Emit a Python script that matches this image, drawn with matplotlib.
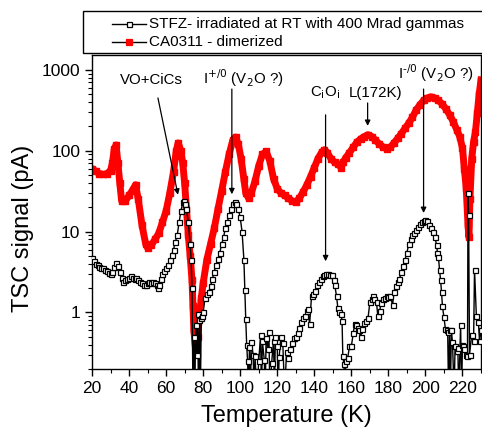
import matplotlib
matplotlib.use("Agg")
import matplotlib.pyplot as plt
from matplotlib.lines import Line2D
from matplotlib.patches import Rectangle
import numpy as np

plt.rcParams['font.family'] = ['Liberation Sans', 'DejaVu Sans']

# ---- data ----
red_T = [20, 22, 24, 26, 28, 30, 31, 32, 33, 34, 35, 36, 38, 40, 42, 43.5, 45, 47, 49, 50,
         52, 54, 56, 58, 60, 62, 64, 65.5, 66.5, 68, 69, 70, 71, 72, 73, 74, 74.5, 75, 75.5, 76,
         77, 78, 79, 80, 82, 84, 86, 88, 90, 92, 94, 96, 97.5, 99, 100.5, 102, 103, 104.5, 106, 108,
         110, 112, 114, 116, 118, 120, 122, 124, 126, 128, 130, 132, 134, 136, 138, 140, 142, 144, 145.5, 147,
         149, 151, 153, 154.5, 155.5, 157, 159, 161, 163, 165, 167, 169, 171, 173, 175, 177, 179, 181, 183, 185,
         187, 189, 191, 193, 195, 197, 199, 201, 203, 205, 207, 209, 211, 213, 215, 217, 218.5, 220, 221, 222,
         223, 223.5, 224, 225, 226, 227, 228, 229, 230]
red_V = [60, 56, 52, 51, 52, 57, 70, 105, 118, 70, 40, 24, 24, 28, 33, 38, 25, 12, 7, 6.3,
         6.8, 8, 9.5, 13, 18, 30, 55, 100, 125, 100, 70, 40, 19, 9, 5, 2.5, 1.2, 0.6, 0.45, 0.33,
         0.5, 0.9, 1.5, 2.3, 4.5, 7, 11, 19, 32, 55, 90, 135, 148, 120, 80, 45, 30, 26, 30, 42,
         65, 90, 98, 75, 45, 34, 30, 28, 26, 24, 23, 26, 31, 38, 48, 62, 80, 96, 103, 95,
         80, 72, 68, 62, 72, 82, 95, 110, 128, 140, 150, 158, 150, 135, 122, 112, 106, 110, 125, 142,
         163, 190, 220, 260, 320, 370, 420, 450, 465, 450, 420, 380, 330, 280, 230, 180, 150, 108, 60, 35,
         12, 8.5, 25, 80, 130, 170, 290, 500, 750]

blk_T = [20, 21, 22, 23, 24, 25, 26, 27, 28, 29, 30, 31, 32, 33, 34, 35, 36, 37, 38, 39,
         40, 41, 42, 43, 44, 45, 46, 47, 48, 49, 50, 51, 52, 53, 54, 55, 55.5, 56, 57, 58,
         59, 60, 61, 62, 63, 64, 65, 66, 67, 68, 69, 69.5, 70, 71, 72, 73, 73.5, 74, 74.5, 75,
         75.5, 76, 76.5, 77, 77.5, 78, 78.5, 79, 79.5, 80, 81, 82, 83, 84, 85, 86, 87, 88, 89, 90,
         91, 92, 93, 94, 95, 96, 97, 98, 99, 100, 101, 102, 102.5, 103, 103.5, 104, 104.5, 105, 105.5, 106,
         107, 107.5, 108, 109, 110, 111, 111.5, 112, 113, 113.5, 114, 115, 115.5, 116, 117, 118, 118.5, 119, 120, 120.5,
         121, 122, 123, 124, 125, 126, 127, 128, 129, 130, 131, 132, 133, 134, 135, 136, 136.5, 137.5, 138.5, 139.5,
         140.5, 141.5, 142.5, 143.5, 144.5, 145.5, 146.5, 147.5, 148.5, 149.5, 150.5, 151, 152, 152.7, 153.5, 154.5, 155, 155.4, 156, 156.5,
         157, 158, 159, 160, 161, 161.8, 162.5, 163.4, 164, 165, 166, 167, 168, 169, 170, 171, 171.5, 172.5, 173.6, 174.3,
         175.3, 176, 177, 178, 179, 180, 181, 182.3, 183, 184, 185, 186, 187, 188, 189, 190, 191, 192, 193, 194,
         195, 196, 197, 198, 199, 200, 201, 202, 203, 204, 205, 206, 206.5, 207, 207.6, 208.2, 208.7, 209.2, 210, 210.8,
         211.5, 212, 212.5, 213, 213.5, 214, 214.6, 215.5, 216, 217, 217.5, 218, 219, 219.5, 220, 220.5, 221, 222, 222.7, 223,
         223.3, 223.8, 225, 226, 226.5, 227.5, 228.6, 229.2, 230]
blk_V = [4.7, 4.3, 4.0, 3.9, 3.7, 3.6, 3.5, 3.4, 3.3, 3.1, 3.0, 3.2, 3.7, 4.1, 3.8, 3.2, 2.7, 2.4, 2.5, 2.6,
         2.7, 2.8, 2.7, 2.6, 2.7, 2.5, 2.4, 2.3, 2.2, 2.2, 2.3, 2.35, 2.3, 2.35, 2.3, 2.2, 2.0, 2.2, 2.6, 3.0,
         3.3, 3.6, 3.9, 4.4, 5.2, 6.0, 7.5, 9, 13, 18, 23, 24, 22, 19, 13, 7, 4.5, 2, 0.1, 0.5,
         0.1, 0.7, 0.3, 0.95, 0.1, 0.8, 0.1, 0.85, 0.9, 1.0, 1.5, 1.7, 1.8, 2.1, 2.6, 3.2, 3.9, 4.6, 5.5, 7,
         8.5, 11, 13, 16, 19, 22, 23.5, 22, 19, 15, 10, 4.5, 1.9, 0.82, 0.4, 0.25, 0.1, 0.37, 0.1, 0.43,
         0.3, 0.1, 0.29, 0.1, 0.25, 0.52, 0.1, 0.44, 0.26, 0.1, 0.49, 0.35, 0.58, 0.1, 0.24, 0.45, 0.1, 0.5, 0.38, 0.1,
         0.28, 0.5, 0.42, 0.1, 0.32, 0.27, 0.35, 0.42, 0.48, 0.5, 0.56, 0.65, 0.77, 0.85, 0.9, 1.05, 1.1, 0.72, 1.58, 1.7,
         1.85, 2.2, 2.4, 2.6, 2.8, 2.95, 3.0, 3.0, 2.95, 2.9, 2.5, 2.2, 1.6, 1.15, 1.0, 0.95, 0.78, 0.29, 0.23, 0.1,
         0.25, 0.27, 0.38, 0.38, 0.55, 0.73, 0.7, 0.65, 0.6, 0.5, 0.62, 0.75, 0.78, 0.85, 1.33, 1.45, 1.58, 1.45, 1.33, 0.9,
         1.03, 1.3, 1.45, 1.5, 1.58, 1.55, 1.6, 1.25, 1.8, 2.1, 2.4, 2.6, 3.2, 3.8, 4.5, 5.5, 7, 8, 9, 9.7,
         10.5, 11.5, 12.3, 13, 13.5, 14, 13.6, 12.2, 11, 10, 8.7, 6.9, 5.5, 4.9, 3.4, 2.5, 1.77, 1.19, 0.87, 0.62,
         0.6, 0.58, 0.1, 0.6, 0.1, 0.6, 0.43, 0.1, 0.38, 0.33, 0.36, 0.1, 0.71, 0.1, 0.4, 0.38, 0.35, 0.3, 0.29, 30,
         16, 0.3, 0.53, 0.45, 3.4, 0.9, 0.77, 0.44, 0.6]

legend_labels = ["STFZ- irradiated at RT with 400 Mrad gammas", "CA0311 - dimerized"]

W, H = 482, 429
def fx(px):
    return px / W
def fy(py):
    return 1 - py / H

# ---- figure ----
fig = plt.figure(figsize=(4.82, 4.29), dpi=100)
ax = fig.add_axes([fx(92), fy(369), 389 / W, 314 / H])

ax.plot(red_T, red_V, color='red', lw=5, marker='s', ms=4.5, mec='red', mfc='red', zorder=2)
ax.plot(blk_T, blk_V, color='black', lw=1, marker='s', ms=3.6, mec='black', mfc='white',
        mew=0.9, zorder=3)

ax.set_yscale('log')
ax.set_xlim(20, 230)
ax.set_ylim(0.2, 1530)
ax.set_xticks(np.arange(20, 231, 20))
ax.set_xticks(np.arange(30, 231, 20), minor=True)
ax.set_yticks([1, 10, 100, 1000])
ax.set_yticklabels(['1', '10', '100', '1000'])
ax.tick_params(which='major', direction='out', length=5, width=1, labelsize=12.5, top=False, right=False)
ax.tick_params(which='minor', direction='out', length=3, width=0.8, top=False, right=False)
ax.tick_params(axis='y', which='minor', labelleft=False)
for s in ax.spines.values():
    s.set_linewidth(1)

fig.text(fx(286), fy(416), 'Temperature (K)', fontsize=17, ha='center', va='center')
fig.text(fx(23), fy(228), 'TSC signal (pA)', fontsize=17, ha='center', va='center', rotation=90)

# ---- annotations ----
ap = dict(arrowstyle='-|>', color='black', lw=0.9, mutation_scale=8, shrinkA=0, shrinkB=0)
fs = 10.8
ax.text(52, 760, 'VO+CiCs', fontsize=fs, ha='center', va='center')
ax.annotate('', xy=(66.4, 28.6), xytext=(55.6, 450), arrowprops=ap)

ax.text(101.5, 800, r'I$^{\text{+/0}}$ (V$_2$O ?)', fontsize=fs, ha='center', va='center')
ax.annotate('', xy=(95.5, 29), xytext=(95.5, 580), arrowprops=ap)

ax.text(145.6, 520, r'C$_{\rm i}$O$_{\rm i}$', fontsize=fs, ha='center', va='center')
ax.annotate('', xy=(146.1, 4.3), xytext=(146.1, 278), arrowprops=ap)

ax.text(173, 520, 'L(172K)', fontsize=fs, ha='center', va='center')
ax.annotate('', xy=(168.8, 203), xytext=(168.8, 390), arrowprops=ap)

ax.text(205.4, 900, r'I$^{\text{-/0}}$ (V$_2$O ?)', fontsize=fs, ha='center', va='center')
ax.annotate('', xy=(199, 17), xytext=(199, 580), arrowprops=ap)

# ---- legend (drawn manually in figure coordinates) ----
fig.add_artist(Rectangle((fx(83), fy(53)), (500 - 83) / W, 42 / H, transform=fig.transFigure,
                         facecolor='white', edgecolor='black', lw=1, clip_on=False))
rows = [(24, 'white', 'black', 3.6), (42, 'red', 'red', 4.5)]
for (py, mfc, mec, ms), lab in zip(rows, legend_labels):
    fig.add_artist(Line2D([fx(112), fx(129), fx(146)], [fy(py)] * 3, transform=fig.transFigure,
                          color='black', lw=1, marker='s', ms=ms, mfc=mfc, mec=mec, mew=0.9,
                          markevery=[1]))
    fig.text(fx(149), fy(py), lab, fontsize=11, ha='left', va='center')

fig.savefig('out.png', dpi=100)
